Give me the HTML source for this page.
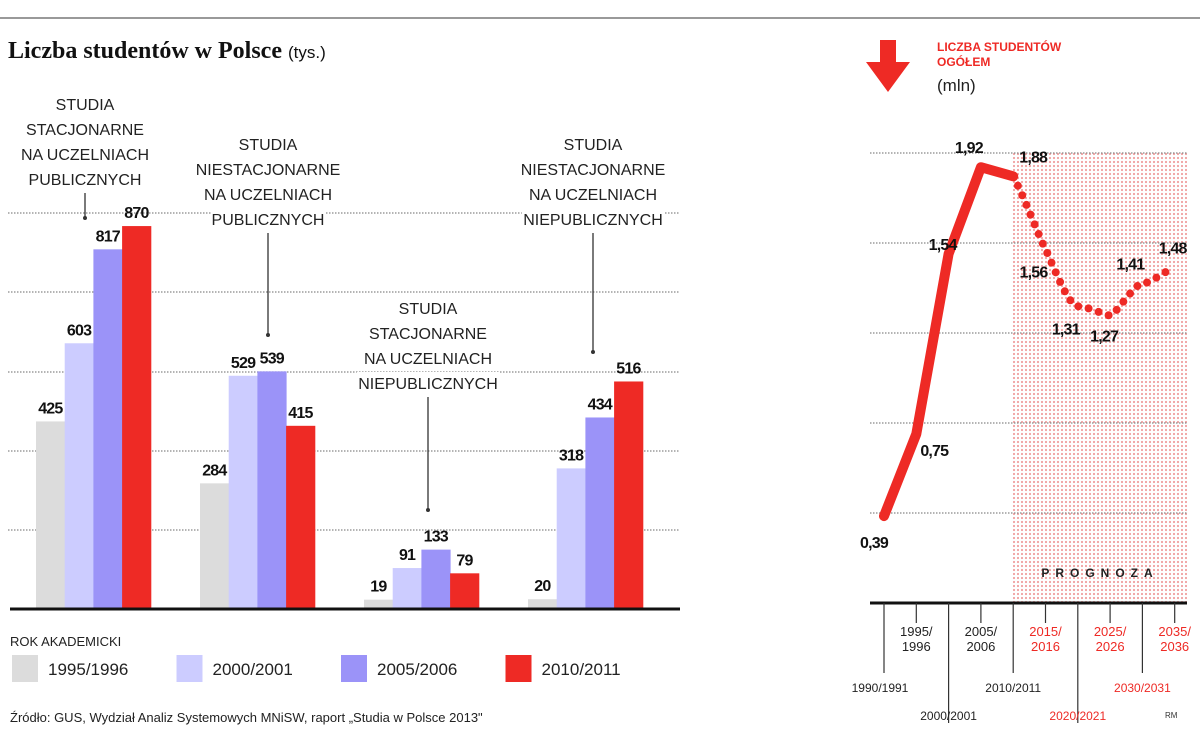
<!DOCTYPE html>
<html><head><meta charset="utf-8"><style>
body{margin:0;background:#fff;width:1200px;height:742px;overflow:hidden;font-family:"Liberation Sans",sans-serif}
svg text{font-family:"Liberation Sans",sans-serif}
</style></head><body>
<svg width="1200" height="742" viewBox="0 0 1200 742">
<defs>
<pattern id="pk" width="4" height="4" patternUnits="userSpaceOnUse"><rect width="4" height="4" fill="#fff"/><circle cx="2" cy="2" r="1.1" fill="#f0a0a0"/></pattern>
</defs>
<line x1="0" y1="18" x2="1200" y2="18" stroke="#999" stroke-width="2"/>
<text x="8" y="58" font-weight="bold" font-size="24" fill="#111" style="font-family:'Liberation Serif',serif">Liczba studentów w Polsce <tspan font-weight="normal" font-size="17" style="font-family:'Liberation Sans',sans-serif">(tys.)</tspan></text>
<g id="bars"></g>
<g id="line"></g>
<text x="10" y="646" font-size="13" fill="#222">ROK AKADEMICKI</text>
<g id="legend"></g>
<text x="10" y="722" font-size="13" fill="#222">Źródło: GUS, Wydział Analiz Systemowych MNiSW, raport „Studia w Polsce 2013"</text>
<text x="1165" y="718" font-size="8" fill="#333">RM</text>
</svg>
<script>
const NS='http://www.w3.org/2000/svg';
function mk(t,a,p,txt){const e=document.createElementNS(NS,t);for(const k in a)e.setAttribute(k,a[k]);if(txt!==undefined)e.textContent=txt;p.appendChild(e);return e;}
// ---- bar chart data
const groups=['Stacjonarne publiczne','Niestacjonarne publiczne','Stacjonarne niepubliczne','Niestacjonarne niepubliczne'];
const years=['1995/1996','2000/2001','2005/2006','2010/2011'];
const s1995=[425,284,19,20];
const s2000=[603,529,91,318];
const s2005=[817,539,133,434];
const s2010=[870,415,79,516];
const series=[s1995,s2000,s2005,s2010];
const colors=['#dcdcdc','#ccccff','#9b93f8','#ee2a25'];
const groupLabels=[['STUDIA','STACJONARNE','NA UCZELNIACH','PUBLICZNYCH'],['STUDIA','NIESTACJONARNE','NA UCZELNIACH','PUBLICZNYCH'],['STUDIA','STACJONARNE','NA UCZELNIACH','NIEPUBLICZNYCH'],['STUDIA','NIESTACJONARNE','NA UCZELNIACH','NIEPUBLICZNYCH']];
const base=608,sc=0.439,bw=28.7;
const yB=v=>base-v*sc, gx=i=>36+i*164;
const bg=document.getElementById('bars');
[213,292,372,451,530].forEach(y=>{const l=mk('line',{x1:8,y1:y,x2:680,y2:y,stroke:'#888','stroke-width':1.2,'stroke-dasharray':'1.5 1.5'},bg);

});
const labY=[[110,135,160,185],[150,175,200,225],[314,339,364,389],[150,175,200,225]];
const labX=[85,268,428,593],lineEnd=[218,335,510,352];
groups.forEach((g,i)=>{
  labY[i].forEach((y,j)=>{const w=groupLabels[i][j].length*9.6;
    const r=mk('rect',{x:labX[i]-w/2-4,y:y-17,width:w+8,height:22,fill:'#fff'},bg);
    
    
    const t=mk('text',{x:labX[i],y:y,'text-anchor':'middle','font-size':16,fill:'#222'},bg,groupLabels[i][j]);
    
    });
  const l=mk('line',{x1:labX[i],y1:labY[i][3]+8,x2:labX[i],y2:lineEnd[i],stroke:'#333','stroke-width':1.3},bg);
  
  
  const c=mk('circle',{cx:labX[i],cy:lineEnd[i],r:2,fill:'#333'},bg);
  
  
  series.forEach((s,k)=>{const x=gx(i)+k*bw,y=yB(s[i]);
    const r=mk('rect',{x:x,y:y,width:bw+0.5,height:base-y,fill:colors[k]},bg);
    
    
    const t=mk('text',{x:x+bw/2,y:y-8,'text-anchor':'middle','font-size':16,'font-weight':'bold',fill:'#111','letter-spacing':'-0.8'},bg,s[i]);
    
    });
});
const ax=mk('line',{x1:10,y1:base+1,x2:680,y2:base+1,stroke:'#111','stroke-width':3},bg);


const lg=document.getElementById('legend');
years.forEach((y,k)=>{const x=12+k*164.5;
  const r=mk('rect',{x:x,y:655,width:26,height:27,fill:colors[k]},lg);
  
  
  const t=mk('text',{x:x+36,y:675,'font-size':17,fill:'#222'},lg,y);
  
  });
// ---- line chart data
const lyears=['1990/1991','1995/1996','2000/2001','2005/2006','2010/2011','2015/2016','2020/2021','2025/2026','2030/2031','2035/2036'];
const lvals=[0.39,0.75,1.54,1.92,1.88,1.56,1.31,1.27,1.41,1.48];
const lxBase=884,lxStep=32.3;
const lx=i=>lxBase+i*lxStep, ly=v=>605-228*v;
const lgp=document.getElementById('line');
const fc=mk('rect',{x:lx(4)-2,y:152,width:1187-lx(4)+2,height:451,fill:'url(#pk)'},lgp);


[153,243,333,423,513].forEach(y=>{const l=mk('line',{x1:870,y1:y,x2:1187,y2:y,stroke:'#888','stroke-width':1.2,'stroke-dasharray':'1.5 1.5'},lgp);

});
const pt=mk('text',{x:1100,y:577,'text-anchor':'middle','font-size':12,'font-weight':'bold','letter-spacing':'6',fill:'#222'},lgp,'PROGNOZA');


const hist=lvals.slice(0,5).map((v,i)=>lx(i)+','+ly(v)).join(' ');
const hl=mk('polyline',{points:hist,fill:'none',stroke:'#ee2a25','stroke-width':10,'stroke-linejoin':'round','stroke-linecap':'round'},lgp);


const fp=lvals.slice(4).map((v,i)=>{const x=lx(i+4),y=ly(v);return x+','+y;});
const fl=mk('path',{d:'M'+fp[0]+' C'+(lx(4)+10)+','+ly(1.8)+' '+(lx(5)-5)+','+ly(1.6)+' '+fp[1]+' S'+(lx(6)-10)+','+ly(1.31)+' '+fp[2]+' S'+(lx(7)-5)+','+ly(1.27)+' '+fp[3]+' S'+(lx(8)-8)+','+ly(1.41)+' '+fp[4]+' S'+(lx(9)-8)+','+ly(1.47)+' '+fp[5],fill:'none',stroke:'#ee2a25','stroke-width':8,'stroke-linecap':'round','stroke-dasharray':'0 10.5'},lgp);


const lblOff=[[-10,32],[18,22],[-6,-4],[-12,-14],[20,-14],[-12,28],[-12,28],[-6,26],[-12,-14],[-2,-14]];
lvals.forEach((v,i)=>{const t=mk('text',{x:lx(i)+lblOff[i][0],y:ly(v)+lblOff[i][1],'text-anchor':'middle','font-size':16,'font-weight':'bold',fill:'#111','letter-spacing':'-0.8'},lgp,v.toFixed(2).replace('.',','));

});
const la=mk('line',{x1:870,y1:603,x2:1187,y2:603,stroke:'#111','stroke-width':3},lgp);


const tickLen=[70,20,120,20,70,20,120,20,70,20];
lyears.forEach((y,i)=>{const x=lx(i),red=i>=5,c=red?'#ee2a25':'#222';
  const tk=mk('line',{x1:x,y1:603,x2:x,y2:603+tickLen[i],stroke:'#333','stroke-width':1.2},lgp);
  
  
  if(i%2===1){const p=y.split('/');
    const t=mk('text',{x:x,y:636,'text-anchor':'middle','font-size':13,fill:c},lgp);
    
    
    mk('tspan',{x:x,dy:0},t,p[0]+'/');mk('tspan',{x:x,dy:15},t,p[1]);}
  else{const yy=i%4===0?692:720;
    const t=mk('text',{x:x+(i===0?-4:0),y:yy,'text-anchor':'middle','font-size':12,fill:c},lgp,y);
    
    }
});
const ar=mk('path',{d:'M880,40 h16 v22 h14 l-22,30 l-22,-30 h14 z',fill:'#ee2a25'},lgp);


const h1=mk('text',{x:937,y:51,'font-size':12,'font-weight':'bold',fill:'#ee2a25'},lgp,'LICZBA STUDENTÓW');


const h2=mk('text',{x:937,y:66,'font-size':12,'font-weight':'bold',fill:'#ee2a25'},lgp,'OGÓŁEM');


const h3=mk('text',{x:937,y:91,'font-size':17,fill:'#222'},lgp,'(mln)');


</script>
</body></html>
